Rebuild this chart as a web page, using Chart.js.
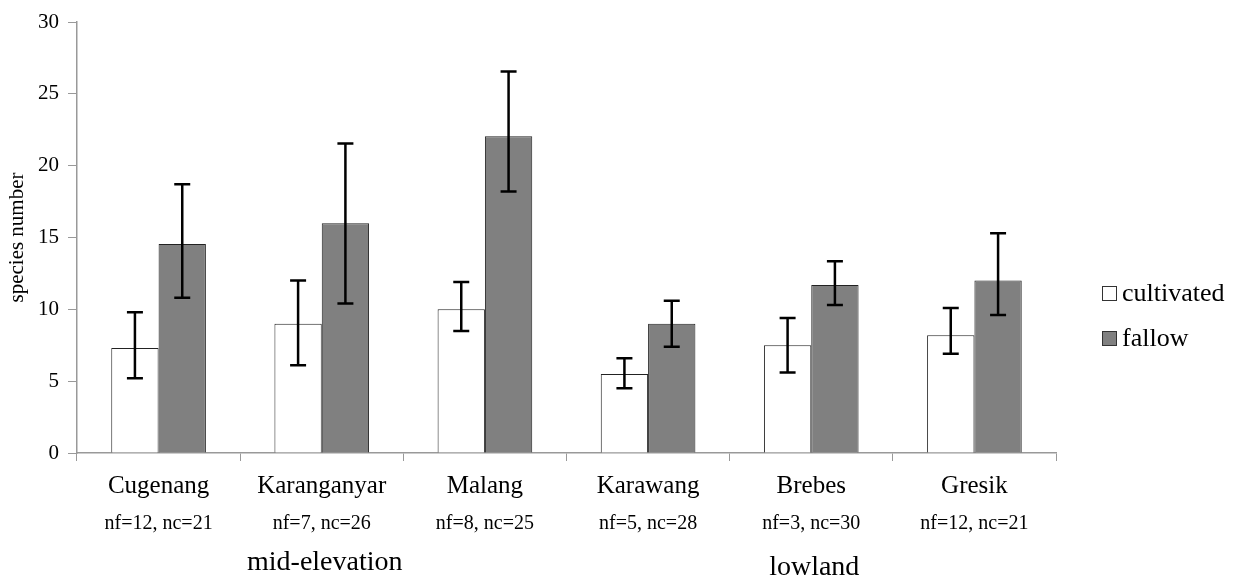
<!DOCTYPE html>
<html>
<head>
<meta charset="utf-8">
<script src="https://cdn.jsdelivr.net/npm/chart.js@4/dist/chart.umd.min.js"></script>
<style>
  html, body { margin: 0; padding: 0; background: #fff; }
  #wrap { position: relative; width: 1239px; height: 578px; }
  #legend { position: absolute; left: 1102px; top: 271px; font-family: "Liberation Serif", serif; font-size: 26px; color: #000; }
  #legend div { display: flex; align-items: center; height: 44px; }
  #legend span.box { display: inline-block; width: 13px; height: 13px; border: 1px solid #333; margin-right: 5px; }
</style>
</head>
<body>
<div id="wrap">
  <canvas id="chart" width="1239" height="578"></canvas>
  <div id="legend">
    <div><span class="box" style="background:#fff"></span>cultivated</div>
    <div style="margin-top:1px"><span class="box" style="background:#808080"></span>fallow</div>
  </div>
</div>
<script>
const sites = ['Cugenang', 'Karanganyar', 'Malang', 'Karawang', 'Brebes', 'Gresik'];
const sampleSizes = ['nf=12, nc=21', 'nf=7, nc=26', 'nf=8, nc=25', 'nf=5, nc=28', 'nf=3, nc=30', 'nf=12, nc=21'];
const cultivated = [7.3, 9.0, 10.0, 5.5, 7.5, 8.2];
const cultivatedLow = [5.2, 6.1, 8.5, 4.5, 5.6, 6.9];
const cultivatedHigh = [9.8, 12.0, 11.9, 6.6, 9.4, 10.1];
const fallow = [14.55, 16.0, 22.05, 9.0, 11.7, 12.0];
const fallowLow = [10.8, 10.4, 18.2, 7.4, 10.3, 9.6];
const fallowHigh = [18.7, 21.55, 26.55, 10.6, 13.35, 15.3];
const yTicks = [0, 5, 10, 15, 20, 25, 30];
const groups = [{ label: 'mid-elevation', at: 1, dy: 563 }, { label: 'lowland', at: 4, dy: 568 }];

const serif = '"Liberation Serif", "Times New Roman", serif';

const errorBars = {
  id: 'errorBars',
  afterDatasetsDraw(chart) {
    const ctx = chart.ctx;
    const y = chart.scales.y;
    const ranges = [[cultivatedLow, cultivatedHigh], [fallowLow, fallowHigh]];
    ctx.save();
    ctx.strokeStyle = '#000';
    ctx.lineWidth = 2.5;
    chart.data.datasets.forEach((ds, di) => {
      const meta = chart.getDatasetMeta(di);
      meta.data.forEach((bar, i) => {
        const lo = y.getPixelForValue(ranges[di][0][i]);
        const hi = y.getPixelForValue(ranges[di][1][i]);
        ctx.beginPath();
        ctx.moveTo(bar.x, lo); ctx.lineTo(bar.x, hi);
        ctx.moveTo(bar.x - 8, lo); ctx.lineTo(bar.x + 8, lo);
        ctx.moveTo(bar.x - 8, hi); ctx.lineTo(bar.x + 8, hi);
        ctx.stroke();
      });
    });
    ctx.restore();
  }
};

const extraLabels = {
  id: 'extraLabels',
  afterDraw(chart) {
    const ctx = chart.ctx;
    const x = chart.scales.x;
    ctx.save();
    ctx.fillStyle = '#000';
    ctx.textAlign = 'center';
    ctx.textBaseline = 'middle';
    ctx.font = '20px ' + serif;
    sampleSizes.forEach((s, i) => ctx.fillText(s, x.getPixelForValue(i), 524));
    ctx.font = '28px ' + serif;
    groups.forEach(g => ctx.fillText(g.label, x.getPixelForValue(g.at) + 3, g.dy));
    ctx.restore();
  }
};

new Chart(document.getElementById('chart'), {
  type: 'bar',
  data: {
    labels: sites,
    datasets: [
      { label: 'cultivated', data: cultivated, backgroundColor: '#ffffff', borderColor: '#222', borderWidth: 1 },
      { label: 'fallow', data: fallow, backgroundColor: '#808080', borderColor: '#222', borderWidth: 1 }
    ]
  },
  options: {
    responsive: false,
    animation: false,
    layout: { padding: { top: 22, right: 183, left: 5, bottom: 0 } },
    datasets: { bar: { categoryPercentage: 0.58, barPercentage: 1.0 } },
    plugins: { legend: { display: false }, tooltip: { enabled: false } },
    scales: {
      x: {
        grid: { display: true, drawOnChartArea: false, offset: true, tickLength: 8, color: '#999', lineWidth: 1 },
        border: { color: '#999', width: 1.5 },
        ticks: { color: '#000', font: { family: serif, size: 25 }, padding: 10, maxRotation: 0 },
        afterFit(scale) { scale.height = 125; }
      },
      y: {
        min: 0,
        max: 30,
        afterBuildTicks(scale) { scale.ticks = yTicks.map(v => ({ value: v })); },
        grid: { drawOnChartArea: false, tickLength: 9, color: '#999', lineWidth: 1 },
        border: { color: '#999', width: 1.5 },
        ticks: { color: '#000', font: { family: serif, size: 21 }, padding: 9 },
        title: { display: true, text: 'species number', color: '#000', font: { family: serif, size: 21 }, padding: 0 },
        afterFit(scale) { scale.width = 72; }
      }
    }
  },
  plugins: [errorBars, extraLabels]
});
</script>
</body>
</html>
